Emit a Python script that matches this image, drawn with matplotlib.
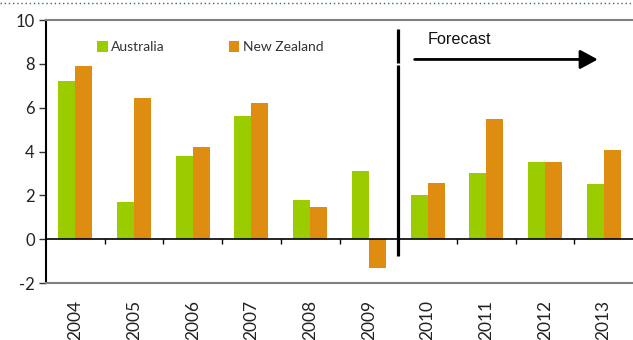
import matplotlib
matplotlib.use('Agg')
import matplotlib.pyplot as plt
from matplotlib.lines import Line2D
import numpy as np

# Data
years = ['2004', '2005', '2006', '2007', '2008', '2009',
         '2010', '2011', '2012', '2013']
australia = [7.2, 1.7, 3.8, 5.6, 1.8, 3.1, 2.0, 3.0, 3.5, 2.5]
new_zealand = [7.9, 6.45, 4.2, 6.2, 1.45, -1.3, 2.55, 5.5, 3.5, 4.05]
y_ticks = [-2, 0, 2, 4, 6, 8, 10]

GREEN = '#9ACC00'
ORANGE = '#DE8D10'

plt.rcParams['font.family'] = ['Lato', 'DejaVu Sans']

fig = plt.figure(figsize=(6.33, 3.40), dpi=100)
ax = fig.add_axes([46 / 633, 1 - 283 / 340, 1 - 46 / 633, (283 - 20) / 340])

x = np.arange(len(years))
w = 0.29
ax.bar(x - w / 2, australia, width=w, color=GREEN, label='Australia')
ax.bar(x + w / 2, new_zealand, width=w, color=ORANGE, label='New Zealand')

ax.set_xlim(-0.5, len(years) - 0.5)
ax.set_ylim(-2, 10)
ax.set_yticks(y_ticks)
ax.set_yticklabels([str(t) for t in y_ticks], fontsize=12, color='#222222')
ax.tick_params(axis='y', length=5, width=1, color='#333333', pad=3)

ax.set_xticks(x)
ax.set_xticklabels(years, rotation=90, fontsize=12.5, color='#222222')
ax.tick_params(axis='x', length=0, pad=12)

ax.spines['right'].set_visible(False)
ax.spines['left'].set_color('black')
ax.spines['left'].set_linewidth(1.5)
for side in ['top', 'bottom']:
    ax.spines[side].set_color('#808080')
    ax.spines[side].set_linewidth(1.5)

# zero line with boundary ticks
ax.axhline(0, color='black', linewidth=1.2, zorder=3)
ax.vlines(x[:-1] + 0.5, 0, -0.22, color='black', linewidth=1.0, zorder=3)

# forecast divider and arrow
ax.vlines(5.5, -0.75, 7.95, color='black', linewidth=2.3, zorder=4)
ax.vlines(5.5, 8.05, 9.6, color='black', linewidth=2.3, zorder=4)
ax.annotate('', xy=(8.9, 8.2), xytext=(5.78, 8.2),
            arrowprops=dict(arrowstyle='-|>,head_length=1.07,head_width=0.58',
                            color='black', linewidth=2.0, shrinkA=0, shrinkB=0))
ax.text(6.0, 9.1, 'Forecast', fontsize=11.7, family=['Liberation Sans'],
        va='center', ha='left', color='#111111')

ax.legend(loc='upper left', bbox_to_anchor=(0.078, 0.94), ncol=2, frameon=False,
          fontsize=10, handlelength=0.75, handleheight=0.75, handletextpad=0.25,
          columnspacing=4.6, borderaxespad=0, labelcolor='#333333')

# dotted decorative line at the very top
fig.add_artist(Line2D([0, 1], [1 - 3 / 340, 1 - 3 / 340], transform=fig.transFigure,
                      color='#2E6E5A', linestyle=(0, (1, 2)), linewidth=1.0))

fig.savefig('out.png', dpi=100)
